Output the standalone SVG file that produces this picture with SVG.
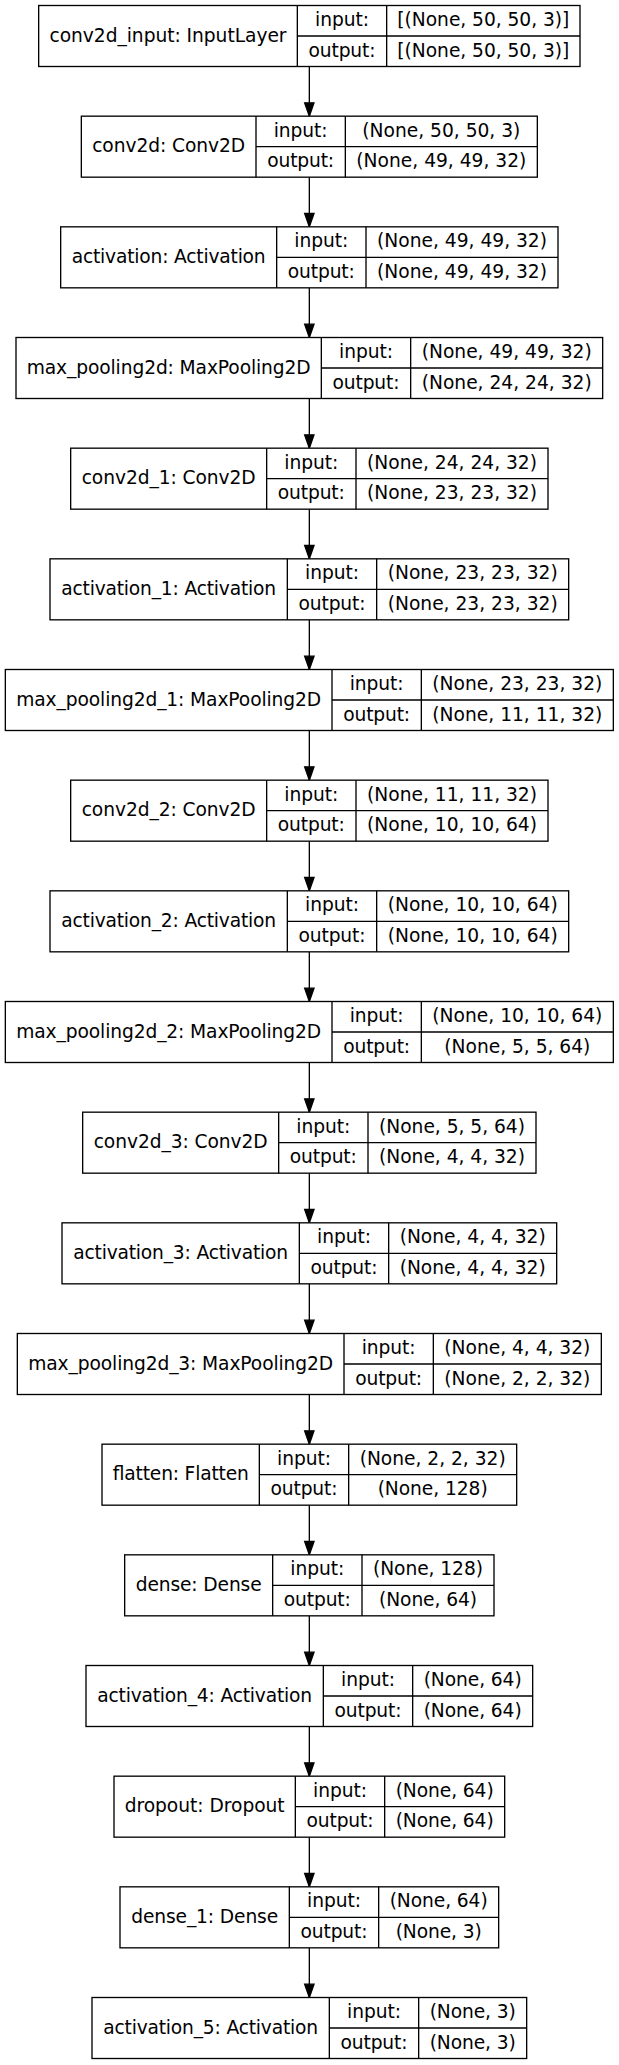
<svg xmlns="http://www.w3.org/2000/svg" width="619" height="2065" viewBox="0 0 619 2065">
<style>
.b{fill:#fff;stroke:#000;stroke-width:1.33}
.s{stroke:#000;stroke-width:1.33;fill:none}
.e{stroke:#000;stroke-width:1.33;fill:none;marker-end:url(#arr)}
text{font-family:"DejaVu Sans","Noto Sans",sans-serif;font-size:18.67px;text-anchor:middle;fill:#000;lengthAdjust:spacing}
</style>
<defs>
<marker id="arr" markerUnits="userSpaceOnUse" refX="13.33" refY="0" markerWidth="16" markerHeight="12" orient="auto" overflow="visible">
<path d="M0,-4.67 L13.33,0 L0,4.67 Z" fill="#000" stroke="#000" stroke-width="1.33"/>
</marker>
</defs>
<rect x="0" y="0" width="619" height="2065" fill="#fff"/>
<g id="connectors">
<line class="e" x1="309.33" y1="66.5" x2="309.33" y2="116.17"/>
<line class="e" x1="309.33" y1="177.17" x2="309.33" y2="226.83"/>
<line class="e" x1="309.33" y1="287.83" x2="309.33" y2="337.5"/>
<line class="e" x1="309.33" y1="398.5" x2="309.33" y2="448.17"/>
<line class="e" x1="309.33" y1="509.17" x2="309.33" y2="558.83"/>
<line class="e" x1="309.33" y1="619.83" x2="309.33" y2="669.5"/>
<line class="e" x1="309.33" y1="730.5" x2="309.33" y2="780.17"/>
<line class="e" x1="309.33" y1="841.17" x2="309.33" y2="890.83"/>
<line class="e" x1="309.33" y1="951.83" x2="309.33" y2="1001.5"/>
<line class="e" x1="309.33" y1="1062.5" x2="309.33" y2="1112.17"/>
<line class="e" x1="309.33" y1="1173.17" x2="309.33" y2="1222.83"/>
<line class="e" x1="309.33" y1="1283.83" x2="309.33" y2="1333.5"/>
<line class="e" x1="309.33" y1="1394.5" x2="309.33" y2="1444.17"/>
<line class="e" x1="309.33" y1="1505.17" x2="309.33" y2="1554.83"/>
<line class="e" x1="309.33" y1="1615.83" x2="309.33" y2="1665.5"/>
<line class="e" x1="309.33" y1="1726.5" x2="309.33" y2="1776.17"/>
<line class="e" x1="309.33" y1="1837.17" x2="309.33" y2="1886.83"/>
<line class="e" x1="309.33" y1="1947.83" x2="309.33" y2="1997.5"/>
</g>

<g id="conv2d_input" transform="translate(0,5.5)">
<rect class="b" x="38.67" y="0" width="541.33" height="61"/>
<path class="s" d="M297.33,0V61M386.67,0V61M297.33,30.5H580"/>
<text x="168" y="36" textLength="237">conv2d_input: InputLayer</text>
<text x="342" y="20.5" textLength="54">input:</text>
<text x="342" y="51" textLength="67">output:</text>
<text x="483.33" y="20.5" textLength="172">[(None, 50, 50, 3)]</text>
<text x="483.33" y="51" textLength="172">[(None, 50, 50, 3)]</text>
</g>

<g id="conv2d" transform="translate(0,116.17)">
<rect class="b" x="81.33" y="0" width="456" height="61"/>
<path class="s" d="M256,0V61M345.33,0V61M256,30.5H537.33"/>
<text x="168.67" y="36" textLength="153">conv2d: Conv2D</text>
<text x="300.67" y="20.5" textLength="54">input:</text>
<text x="300.67" y="51" textLength="67">output:</text>
<text x="441.33" y="20.5" textLength="158">(None, 50, 50, 3)</text>
<text x="441.33" y="51" textLength="170">(None, 49, 49, 32)</text>
</g>

<g id="activation" transform="translate(0,226.83)">
<rect class="b" x="60.67" y="0" width="497.33" height="61"/>
<path class="s" d="M276.67,0V61M366,0V61M276.67,30.5H558"/>
<text x="168.67" y="36" textLength="194">activation: Activation</text>
<text x="321.33" y="20.5" textLength="54">input:</text>
<text x="321.33" y="51" textLength="67">output:</text>
<text x="462" y="20.5" textLength="170">(None, 49, 49, 32)</text>
<text x="462" y="51" textLength="170">(None, 49, 49, 32)</text>
</g>

<g id="max_pooling2d" transform="translate(0,337.5)">
<rect class="b" x="16" y="0" width="586.67" height="61"/>
<path class="s" d="M321.33,0V61M410.67,0V61M321.33,30.5H602.67"/>
<text x="168.67" y="36" textLength="284">max_pooling2d: MaxPooling2D</text>
<text x="366" y="20.5" textLength="54">input:</text>
<text x="366" y="51" textLength="67">output:</text>
<text x="506.67" y="20.5" textLength="170">(None, 49, 49, 32)</text>
<text x="506.67" y="51" textLength="170">(None, 24, 24, 32)</text>
</g>

<g id="conv2d_1" transform="translate(0,448.17)">
<rect class="b" x="70.67" y="0" width="477.33" height="61"/>
<path class="s" d="M266.67,0V61M356,0V61M266.67,30.5H548"/>
<text x="168.67" y="36" textLength="174">conv2d_1: Conv2D</text>
<text x="311.33" y="20.5" textLength="54">input:</text>
<text x="311.33" y="51" textLength="67">output:</text>
<text x="452" y="20.5" textLength="170">(None, 24, 24, 32)</text>
<text x="452" y="51" textLength="170">(None, 23, 23, 32)</text>
</g>

<g id="activation_1" transform="translate(0,558.83)">
<rect class="b" x="50" y="0" width="518.67" height="61"/>
<path class="s" d="M287.33,0V61M376.67,0V61M287.33,30.5H568.67"/>
<text x="168.67" y="36" textLength="215">activation_1: Activation</text>
<text x="332" y="20.5" textLength="54">input:</text>
<text x="332" y="51" textLength="67">output:</text>
<text x="472.67" y="20.5" textLength="170">(None, 23, 23, 32)</text>
<text x="472.67" y="51" textLength="170">(None, 23, 23, 32)</text>
</g>

<g id="max_pooling2d_1" transform="translate(0,669.5)">
<rect class="b" x="5.33" y="0" width="608" height="61"/>
<path class="s" d="M332,0V61M421.33,0V61M332,30.5H613.33"/>
<text x="168.67" y="36" textLength="305">max_pooling2d_1: MaxPooling2D</text>
<text x="376.67" y="20.5" textLength="54">input:</text>
<text x="376.67" y="51" textLength="67">output:</text>
<text x="517.33" y="20.5" textLength="170">(None, 23, 23, 32)</text>
<text x="517.33" y="51" textLength="170">(None, 11, 11, 32)</text>
</g>

<g id="conv2d_2" transform="translate(0,780.17)">
<rect class="b" x="70.67" y="0" width="477.33" height="61"/>
<path class="s" d="M266.67,0V61M356,0V61M266.67,30.5H548"/>
<text x="168.67" y="36" textLength="174">conv2d_2: Conv2D</text>
<text x="311.33" y="20.5" textLength="54">input:</text>
<text x="311.33" y="51" textLength="67">output:</text>
<text x="452" y="20.5" textLength="170">(None, 11, 11, 32)</text>
<text x="452" y="51" textLength="170">(None, 10, 10, 64)</text>
</g>

<g id="activation_2" transform="translate(0,890.83)">
<rect class="b" x="50" y="0" width="518.67" height="61"/>
<path class="s" d="M287.33,0V61M376.67,0V61M287.33,30.5H568.67"/>
<text x="168.67" y="36" textLength="215">activation_2: Activation</text>
<text x="332" y="20.5" textLength="54">input:</text>
<text x="332" y="51" textLength="67">output:</text>
<text x="472.67" y="20.5" textLength="170">(None, 10, 10, 64)</text>
<text x="472.67" y="51" textLength="170">(None, 10, 10, 64)</text>
</g>

<g id="max_pooling2d_2" transform="translate(0,1001.5)">
<rect class="b" x="5.33" y="0" width="608" height="61"/>
<path class="s" d="M332,0V61M421.33,0V61M332,30.5H613.33"/>
<text x="168.67" y="36" textLength="305">max_pooling2d_2: MaxPooling2D</text>
<text x="376.67" y="20.5" textLength="54">input:</text>
<text x="376.67" y="51" textLength="67">output:</text>
<text x="517.33" y="20.5" textLength="170">(None, 10, 10, 64)</text>
<text x="517.33" y="51" textLength="146">(None, 5, 5, 64)</text>
</g>

<g id="conv2d_3" transform="translate(0,1112.17)">
<rect class="b" x="82.67" y="0" width="453.33" height="61"/>
<path class="s" d="M278.67,0V61M368,0V61M278.67,30.5H536"/>
<text x="180.67" y="36" textLength="174">conv2d_3: Conv2D</text>
<text x="323.33" y="20.5" textLength="54">input:</text>
<text x="323.33" y="51" textLength="67">output:</text>
<text x="452" y="20.5" textLength="146">(None, 5, 5, 64)</text>
<text x="452" y="51" textLength="146">(None, 4, 4, 32)</text>
</g>

<g id="activation_3" transform="translate(0,1222.83)">
<rect class="b" x="62" y="0" width="494.67" height="61"/>
<path class="s" d="M299.33,0V61M388.67,0V61M299.33,30.5H556.67"/>
<text x="180.67" y="36" textLength="215">activation_3: Activation</text>
<text x="344" y="20.5" textLength="54">input:</text>
<text x="344" y="51" textLength="67">output:</text>
<text x="472.67" y="20.5" textLength="146">(None, 4, 4, 32)</text>
<text x="472.67" y="51" textLength="146">(None, 4, 4, 32)</text>
</g>

<g id="max_pooling2d_3" transform="translate(0,1333.5)">
<rect class="b" x="17.33" y="0" width="584" height="61"/>
<path class="s" d="M344,0V61M433.33,0V61M344,30.5H601.33"/>
<text x="180.67" y="36" textLength="305">max_pooling2d_3: MaxPooling2D</text>
<text x="388.67" y="20.5" textLength="54">input:</text>
<text x="388.67" y="51" textLength="67">output:</text>
<text x="517.33" y="20.5" textLength="146">(None, 4, 4, 32)</text>
<text x="517.33" y="51" textLength="146">(None, 2, 2, 32)</text>
</g>

<g id="flatten" transform="translate(0,1444.17)">
<rect class="b" x="102" y="0" width="414.67" height="61"/>
<path class="s" d="M259.33,0V61M348.67,0V61M259.33,30.5H516.67"/>
<text x="180.67" y="36" textLength="136">flatten: Flatten</text>
<text x="304" y="20.5" textLength="54">input:</text>
<text x="304" y="51" textLength="67">output:</text>
<text x="432.67" y="20.5" textLength="146">(None, 2, 2, 32)</text>
<text x="432.67" y="51" textLength="110">(None, 128)</text>
</g>

<g id="dense" transform="translate(0,1554.83)">
<rect class="b" x="124.67" y="0" width="369.33" height="61"/>
<path class="s" d="M272.67,0V61M362,0V61M272.67,30.5H494"/>
<text x="198.67" y="36" textLength="126">dense: Dense</text>
<text x="317.33" y="20.5" textLength="54">input:</text>
<text x="317.33" y="51" textLength="67">output:</text>
<text x="428" y="20.5" textLength="110">(None, 128)</text>
<text x="428" y="51" textLength="98">(None, 64)</text>
</g>

<g id="activation_4" transform="translate(0,1665.5)">
<rect class="b" x="86" y="0" width="446.67" height="61"/>
<path class="s" d="M323.33,0V61M412.67,0V61M323.33,30.5H532.67"/>
<text x="204.67" y="36" textLength="215">activation_4: Activation</text>
<text x="368" y="20.5" textLength="54">input:</text>
<text x="368" y="51" textLength="67">output:</text>
<text x="472.67" y="20.5" textLength="98">(None, 64)</text>
<text x="472.67" y="51" textLength="98">(None, 64)</text>
</g>

<g id="dropout" transform="translate(0,1776.17)">
<rect class="b" x="114" y="0" width="390.67" height="61"/>
<path class="s" d="M295.33,0V61M384.67,0V61M295.33,30.5H504.67"/>
<text x="204.67" y="36" textLength="160">dropout: Dropout</text>
<text x="340" y="20.5" textLength="54">input:</text>
<text x="340" y="51" textLength="67">output:</text>
<text x="444.67" y="20.5" textLength="98">(None, 64)</text>
<text x="444.67" y="51" textLength="98">(None, 64)</text>
</g>

<g id="dense_1" transform="translate(0,1886.83)">
<rect class="b" x="120" y="0" width="378.67" height="61"/>
<path class="s" d="M289.33,0V61M378.67,0V61M289.33,30.5H498.67"/>
<text x="204.67" y="36" textLength="147">dense_1: Dense</text>
<text x="334" y="20.5" textLength="54">input:</text>
<text x="334" y="51" textLength="67">output:</text>
<text x="438.67" y="20.5" textLength="98">(None, 64)</text>
<text x="438.67" y="51" textLength="86">(None, 3)</text>
</g>

<g id="activation_5" transform="translate(0,1997.5)">
<rect class="b" x="92" y="0" width="434.67" height="61"/>
<path class="s" d="M329.33,0V61M418.67,0V61M329.33,30.5H526.67"/>
<text x="210.67" y="36" textLength="215">activation_5: Activation</text>
<text x="374" y="20.5" textLength="54">input:</text>
<text x="374" y="51" textLength="67">output:</text>
<text x="472.67" y="20.5" textLength="86">(None, 3)</text>
<text x="472.67" y="51" textLength="86">(None, 3)</text>
</g>
</svg>
